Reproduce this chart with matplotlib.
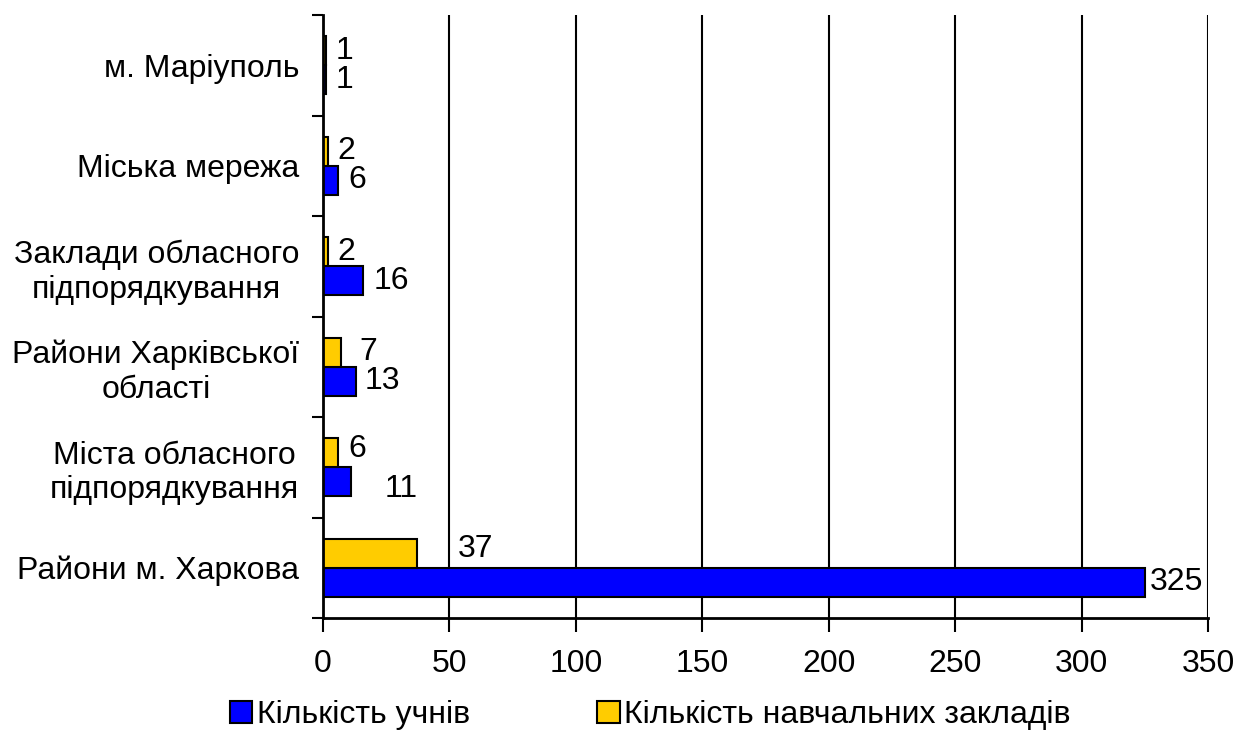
import matplotlib
matplotlib.use("Agg")
import matplotlib.pyplot as plt
import numpy as np

categories = ["Райони м. Харкова", "Міста обласного\nпідпорядкування", "Райони Харківської\nобласті",
              "Заклади обласного\nпідпорядкування", "Міська мережа", "м. Маріуполь"]
students = [325, 11, 13, 16, 6, 1]
schools = [37, 6, 7, 2, 2, 1]
series_names = ["Кількість учнів", "Кількість навчальних закладів"]
xticks = [0, 50, 100, 150, 200, 250, 300, 350]

plt.rcParams['font.family'] = ['Liberation Sans', 'DejaVu Sans']
FS = 23

fig = plt.figure(figsize=(12.37, 7.31), dpi=100)
ax = fig.add_axes([323/1237, 1-618/731, (1208-323)/1237, (618-15)/731])

y = np.arange(len(categories))
h = 0.29
b1 = ax.barh(y - h/2, students, height=h, color="#0000FF", edgecolor="black", linewidth=1.5, zorder=3, label=series_names[0])
b2 = ax.barh(y + h/2, schools, height=h, color="#FFCC00", edgecolor="black", linewidth=1.5, zorder=3, label=series_names[1])

stu_pad = [(3.6, 0), (24.5, -5), (6.5, 0), (7, 0), (7, 0), (7, 0)]
sch_pad = [(29.5, 3), (7, 3), (13.7, 0), (6.5, 0), (6.5, 0), (7, 0)]
for i in range(len(categories)):
    ax.annotate(str(students[i]), (students[i], y[i] - h/2), xytext=stu_pad[i], textcoords="offset points",
                va="center", ha="left", fontsize=FS)
    ax.annotate(str(schools[i]), (schools[i], y[i] + h/2), xytext=sch_pad[i], textcoords="offset points",
                va="center", ha="left", fontsize=FS)

ax.set_xlim(0, 350)
ax.set_ylim(-0.5, len(categories) - 0.5)
ax.set_xticks(xticks)
ax.set_xticklabels([str(t) for t in xticks], fontsize=FS)
ax.set_yticks(np.arange(-0.5, len(categories), 1.0), minor=False)
ax.set_yticklabels([])
ax.set_yticks(y, minor=True)
ax.set_yticklabels(categories, minor=True, fontsize=FS, multialignment='center')
ax.tick_params(axis='y', which='minor', length=0, pad=17)
ax.tick_params(axis='y', which='major', length=8, width=1.5, direction='out')
ax.tick_params(axis='x', length=10, width=1.5, direction='out', pad=12)
ax.xaxis.grid(True, color='black', linewidth=1.5, zorder=0)
ax.set_axisbelow(True)
for s in ['top', 'right']:
    ax.spines[s].set_visible(False)
for s in ['left', 'bottom']:
    ax.spines[s].set_linewidth(2)
    ax.spines[s].set_zorder(4)

handles = [b1, b2]
leg = fig.legend(handles, series_names, loc='center left', bbox_to_anchor=(230/1237, 1 - 715/731), ncol=2,
                 frameon=False, fontsize=FS, handlelength=0.7, handleheight=0.7, handletextpad=0.13,
                 columnspacing=4.0, borderaxespad=0, borderpad=0)

fig.savefig("out.png", dpi=100)
